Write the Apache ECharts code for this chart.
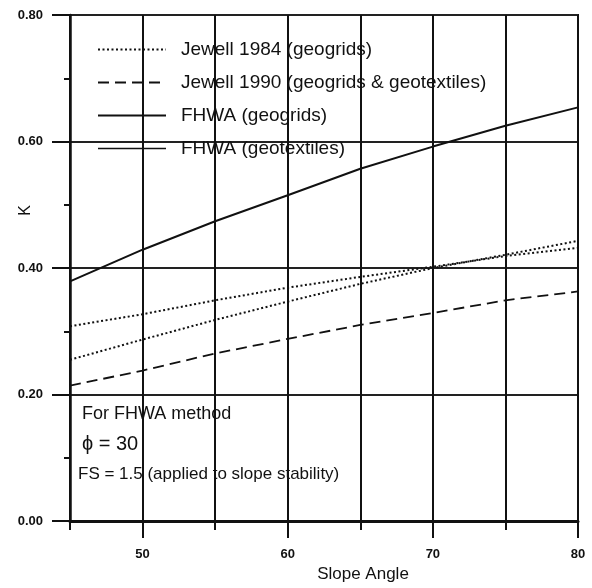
<!DOCTYPE html>
<html>
<head>
<meta charset="utf-8">
<script src="https://cdn.jsdelivr.net/npm/echarts@6/dist/echarts.min.js"></script>
<style>
	html, body { margin: 0; padding: 0; background: #fff; }
	#chart { width: 592px; height: 588px; }
</style>
</head>
<body>
<div id="chart"></div>
<script>
	// slope angle (deg) and K values
	var slope = [45, 50, 55, 60, 65, 70, 75, 80];
	var jewell1984 = [0.255, 0.287, 0.318, 0.347, 0.375, 0.400, 0.421, 0.443];
	var jewell1990 = [0.214, 0.238, 0.265, 0.288, 0.310, 0.329, 0.349, 0.363];
	var fhwaGrids = [0.379, 0.429, 0.474, 0.515, 0.557, 0.592, 0.625, 0.654];
	var fhwaTextiles = [0.308, 0.327, 0.349, 0.369, 0.386, 0.402, 0.419, 0.432];
	var xLabels = [50, 60, 70, 80];
	var names = ['Jewell 1984 (geogrids)', 'Jewell 1990 (geogrids & geotextiles)', 'FHWA (geogrids)', 'FHWA (geotextiles)'];

	function pairs(ys) {
		return slope.map(function (x, i) { return [x, ys[i]]; });
	}

	var font = 'Liberation Sans';
	var chart = echarts.init(document.getElementById('chart'));

	function line(name, ys, type, width) {
		return {
			name: name,
			type: 'line',
			data: pairs(ys),
			symbol: 'none',
			color: '#111',
			animation: false,
			lineStyle: { color: '#111', width: width, type: type }
		};
	}

	chart.setOption({
		backgroundColor: '#fff',
		grid: {
			left: 70, right: 14, top: 15, bottom: 62,
			show: true, borderColor: '#111', borderWidth: 2
		},
		legend: {
			orient: 'vertical',
			left: 92,
			top: 35,
			itemWidth: 68,
			itemHeight: 19,
			itemGap: 14,
			itemStyle: { opacity: 0 },
			textStyle: { fontFamily: font, fontSize: 19, color: '#111', padding: [0, 0, 0, 10] },
			data: [
				{ name: names[0] },
				{ name: names[1] },
				{ name: names[2] },
				{ name: names[3], lineStyle: { type: 'solid', width: 1.5 } }
			]
		},
		xAxis: [{
			type: 'value',
			min: 45, max: 80, interval: 5,
			axisLine: { show: true, onZero: false, lineStyle: { color: '#111', width: 3 } },
			axisTick: { show: true, length: 9, lineStyle: { color: '#111', width: 2 } },
			axisLabel: { show: false },
			splitLine: { show: true, lineStyle: { color: '#111', width: 2 } }
		}, {
			type: 'value',
			min: 45, max: 80, interval: 5,
			position: 'bottom',
			axisLine: { show: false },
			axisTick: { show: true, length: 17, customValues: xLabels, lineStyle: { color: '#111', width: 2 } },
			axisLabel: {
				show: true, customValues: xLabels, margin: 27,
				fontFamily: font, fontSize: 13, fontWeight: 'bold', color: '#111'
			},
			splitLine: { show: false },
			name: 'Slope Angle',
			nameLocation: 'middle',
			nameGap: 44,
			nameTextStyle: { fontFamily: font, fontSize: 17, color: '#111', padding: [0, 0, 0, 78] }
		}],
		yAxis: {
			type: 'value',
			min: 0, max: 0.8, interval: 0.2,
			axisLine: { show: true, lineStyle: { color: '#111', width: 2.5 } },
			axisTick: { show: true, length: 18, lineStyle: { color: '#111', width: 2 } },
			minorTick: { show: true, splitNumber: 2, length: 6, lineStyle: { color: '#111', width: 2 } },
			axisLabel: {
				margin: 27, fontFamily: font, fontSize: 13, fontWeight: 'bold', color: '#111',
				formatter: function (v) { return v.toFixed(2); }
			},
			splitLine: { show: true, lineStyle: { color: '#222', width: 2 } }
		},
		graphic: [
			{ type: 'text', left: 18, top: 205, rotation: Math.PI / 2,
				style: { text: 'K', font: '16px ' + font, fill: '#111' } },
			{ type: 'text', left: 82, top: 405,
				style: { text: 'For FHWA method', font: '18px ' + font, fill: '#111' } },
			{ type: 'text', left: 82, top: 434,
				style: { text: 'ϕ = 30', font: '20px ' + font, fill: '#111' } },
			{ type: 'text', left: 78, top: 466,
				style: { text: 'FS = 1.5 (applied to slope stability)', font: '17px ' + font, fill: '#111' } }
		],
		series: [
			line(names[0], jewell1984, [2, 2.5], 2),
			line(names[1], jewell1990, [11, 6], 1.8),
			line(names[2], fhwaGrids, 'solid', 2),
			line(names[3], fhwaTextiles, [2, 2.5], 2)
		]
	});
</script>
</body>
</html>
